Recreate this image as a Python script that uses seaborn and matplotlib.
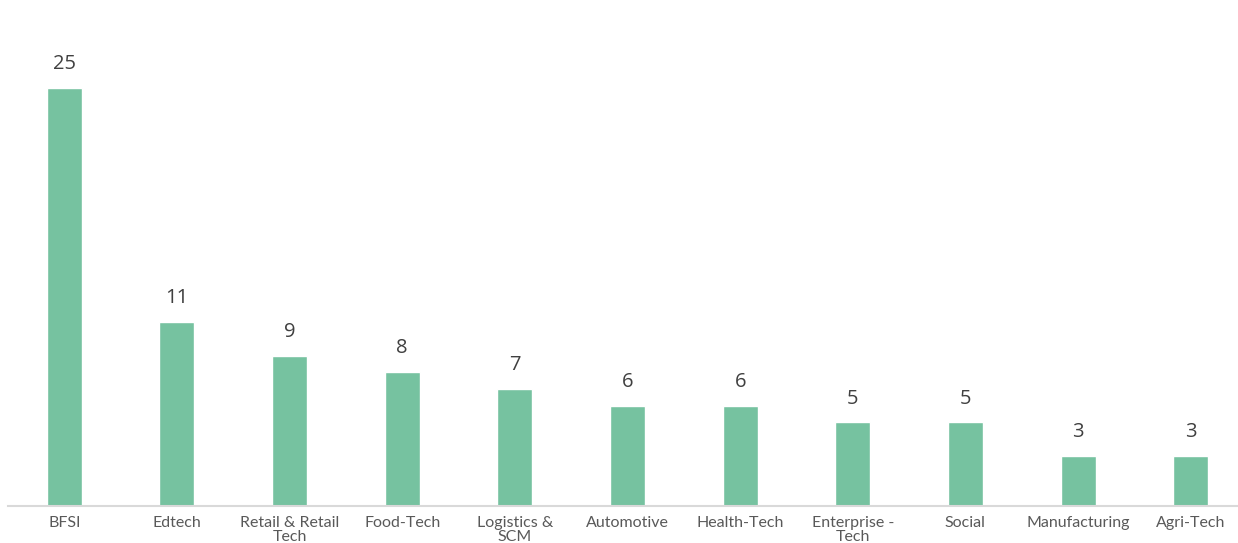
import pandas as pd
import seaborn as sns
import matplotlib.pyplot as plt

# Chart data
sectors = ['BFSI', 'Edtech', 'Retail & Retail\nTech', 'Food-Tech', 'Logistics &\nSCM',
           'Automotive', 'Health-Tech', 'Enterprise -\nTech', 'Social', 'Manufacturing', 'Agri-Tech']
counts = [25, 11, 9, 8, 7, 6, 6, 5, 5, 3, 3]

df = pd.DataFrame({'Sector': sectors, 'Count': counts})

sns.set_theme(style='white')
plt.rcParams['font.family'] = ['Lato', 'DejaVu Sans']

fig = plt.figure(figsize=(12.38, 5.43), dpi=100)
ax = fig.add_axes([8 / 1238, 37 / 543, 1230 / 1238, 506 / 543])

sns.barplot(data=df, x='Sector', y='Count', color='#76C2A0', width=0.31,
            saturation=1, ax=ax)

for c in ax.containers:
    ax.bar_label(c, padding=10, fontsize=14.5, color='#404040', family='Open Sans')

ax.set_xlim(-0.5, 10.42)
ax.set_ylim(0, 30.26)
ax.set_xlabel('')
ax.set_ylabel('')
ax.set_yticks([])
for side in ['top', 'right', 'left']:
    ax.spines[side].set_visible(False)
ax.spines['bottom'].set_color('#D9D9D9')
ax.spines['bottom'].set_linewidth(1.5)
ax.tick_params(axis='x', length=0, pad=7.5, labelsize=11.5, labelcolor='#595959')
for lbl in ax.get_xticklabels():
    lbl.set_linespacing(0.95)

fig.savefig('out.png', dpi=100)
